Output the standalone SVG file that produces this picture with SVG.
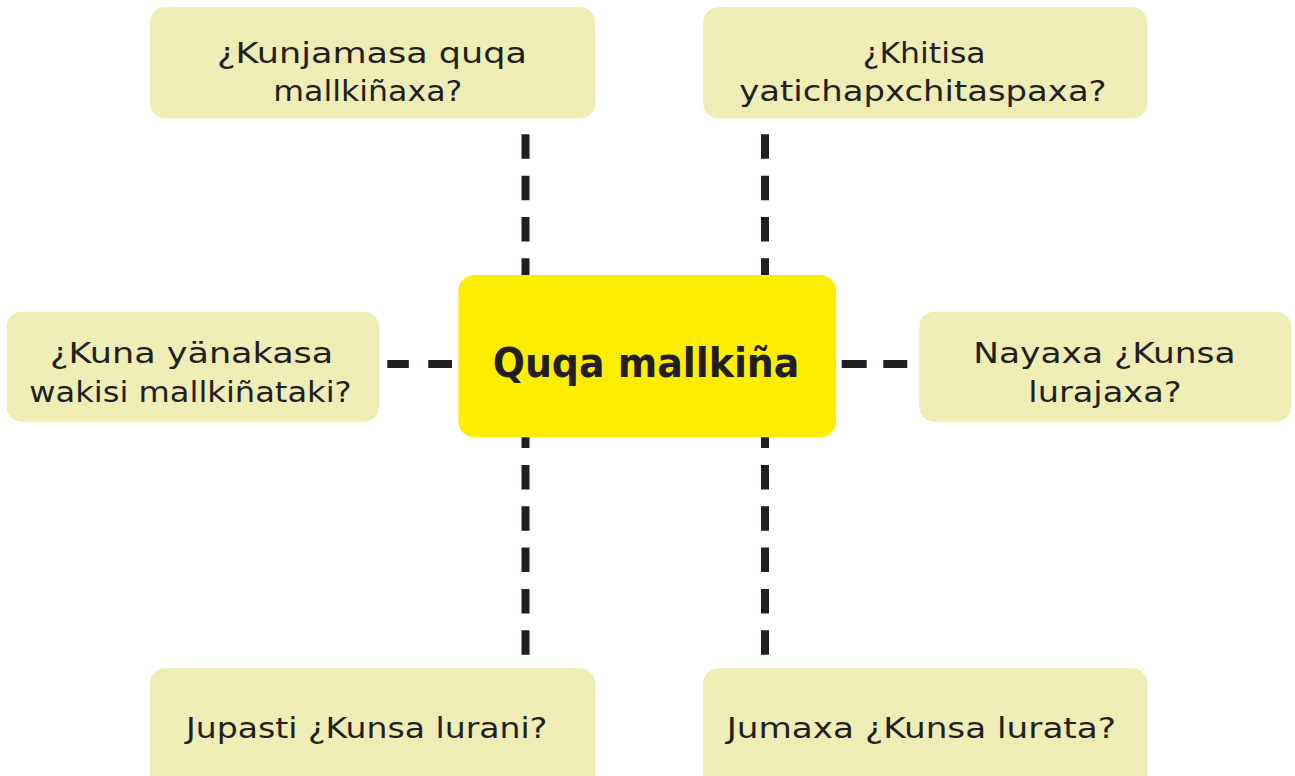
<svg xmlns="http://www.w3.org/2000/svg" width="1295" height="776" viewBox="0 0 1295 776">
<style>
.box{fill:#EDEDB5}
.t{font-family:"DejaVu Sans","Liberation Sans",sans-serif;font-size:28.5px;fill:#231F20}
.title{font-family:"DejaVu Sans","Liberation Sans",sans-serif;font-size:41px;font-weight:bold;fill:#231F20}
.dash{stroke:#231F20;stroke-width:8;fill:none}
</style>
<rect width="1295" height="776" fill="#FFFFFF"/>
<g id="connectors">
<line class="dash" x1="525.5" y1="134.3" x2="525.5" y2="655" stroke-dasharray="24.5 16.83"/>
<line class="dash" x1="765" y1="134.3" x2="765" y2="655" stroke-dasharray="24.5 16.83"/>
<path class="dash" stroke-width="8.5" d="M387.3 364 H408.8 M428.3 364 H452"/>
<path class="dash" stroke-width="8.5" d="M841.7 364 H866.7 M883.3 364 H907.3"/>
</g>
<g id="center">
<rect x="458.3" y="275" width="377.7" height="162.3" rx="16" fill="#FFED00"/>
<text class="title" x="492.7" y="377" textLength="306.7" lengthAdjust="spacingAndGlyphs">Quqa mallkiña</text>
</g>
<g id="top-left">
<rect class="box" x="150" y="7.3" width="445.3" height="111" rx="15"/>
<text class="t" x="217" y="62.5" textLength="310" lengthAdjust="spacingAndGlyphs">¿Kunjamasa quqa</text>
<text class="t" x="273.3" y="101.2" textLength="189" lengthAdjust="spacingAndGlyphs">mallkiñaxa?</text>
</g>
<g id="top-right">
<rect class="box" x="703.3" y="7.3" width="444" height="111" rx="15"/>
<text class="t" x="862.7" y="62.5" textLength="123" lengthAdjust="spacingAndGlyphs">¿Khitisa</text>
<text class="t" x="739.3" y="100.7" textLength="367.3" lengthAdjust="spacingAndGlyphs">yatichapxchitaspaxa?</text>
</g>
<g id="left">
<rect class="box" x="6.7" y="311.7" width="372.3" height="110" rx="15"/>
<text class="t" x="50" y="363.3" textLength="283.3" lengthAdjust="spacingAndGlyphs">¿Kuna yänakasa</text>
<text class="t" x="29.3" y="401.7" textLength="322.3" lengthAdjust="spacingAndGlyphs">wakisi mallkiñataki?</text>
</g>
<g id="right">
<rect class="box" x="919.3" y="311.7" width="371.7" height="110" rx="15"/>
<text class="t" x="973.3" y="363.3" textLength="262.3" lengthAdjust="spacingAndGlyphs">Nayaxa ¿Kunsa</text>
<text class="t" x="1028.3" y="401.7" textLength="153.3" lengthAdjust="spacingAndGlyphs">lurajaxa?</text>
</g>
<g id="bottom-left">
<rect class="box" x="150" y="668.3" width="445" height="125" rx="15"/>
<text class="t" x="186" y="737.7" textLength="361.3" lengthAdjust="spacingAndGlyphs">Jupasti ¿Kunsa lurani?</text>
</g>
<g id="bottom-right">
<rect class="box" x="703.3" y="668.3" width="444" height="125" rx="15"/>
<text class="t" x="726.7" y="737.7" textLength="389.3" lengthAdjust="spacingAndGlyphs">Jumaxa ¿Kunsa lurata?</text>
</g>
</svg>
